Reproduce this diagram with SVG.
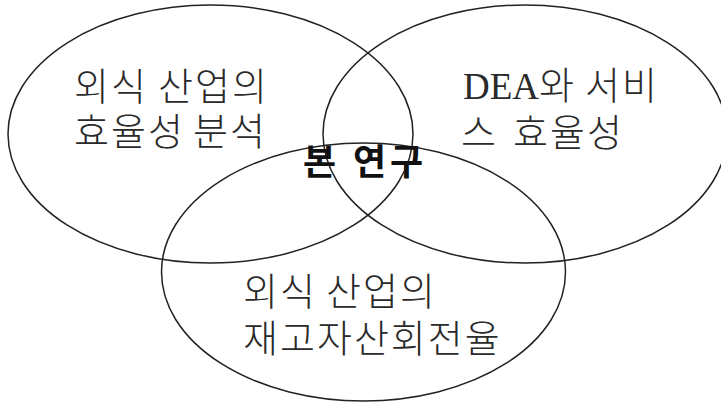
<svg xmlns="http://www.w3.org/2000/svg" width="721" height="405" viewBox="0 0 721 405">
<style>
.e{fill:none;stroke:#222;stroke-width:1.5}
.t{font-family:"Noto Sans CJK KR","Noto Sans CJK SC",sans-serif;font-size:38px;letter-spacing:2px;fill:#2a2a2a;font-weight:300}
.s{font-family:"Liberation Serif",serif;font-size:37px;letter-spacing:0}
.b{font-family:"Noto Sans CJK KR",sans-serif;font-size:36px;font-weight:bold;fill:#111;letter-spacing:4px}
</style>
<rect width="721" height="405" fill="#fff"/>
<g id="left">
<ellipse class="e" cx="210.5" cy="134" rx="202.5" ry="129"/>
<text class="t" y="100"><tspan x="74">외식</tspan><tspan x="158">산업의</tspan></text>
<text class="t" y="145"><tspan x="74">효율성</tspan><tspan x="193">분석</tspan></text>
</g>
<g id="right">
<ellipse class="e" cx="525" cy="134" rx="202" ry="129"/>
<text class="t" y="99"><tspan x="463" class="s">DEA</tspan><tspan>와</tspan><tspan x="585">서비</tspan></text>
<text class="t" y="146"><tspan x="461">스</tspan><tspan x="513">효율성</tspan></text>
</g>
<g id="bottom">
<ellipse class="e" cx="363.5" cy="272" rx="202" ry="129"/>
<text class="t" y="305"><tspan x="243">외식</tspan><tspan x="326">산업의</tspan></text>
<text class="t" y="352"><tspan x="243">재고자산회전율</tspan></text>
</g>
<g id="center">
<text class="b" y="175"><tspan x="303">본</tspan><tspan x="353">연구</tspan></text>
</g>
</svg>
